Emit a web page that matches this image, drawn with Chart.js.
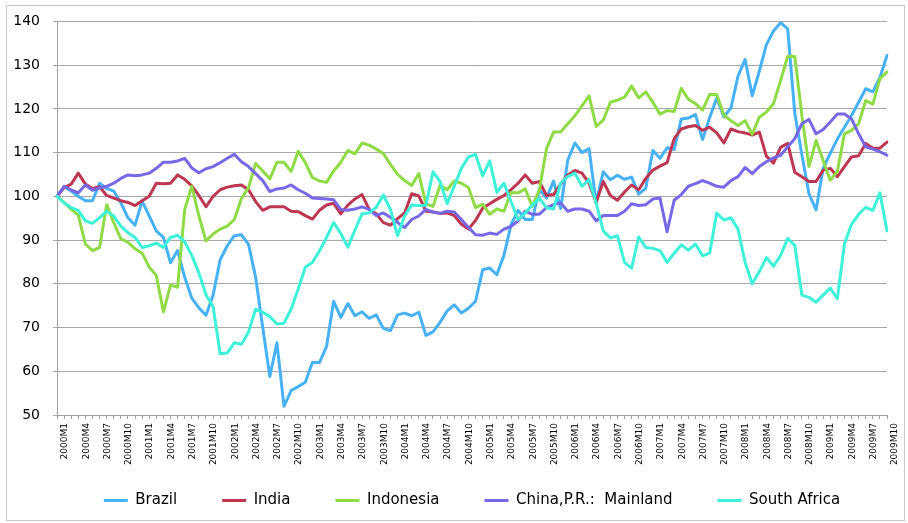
<!DOCTYPE html>
<html>
<head>
<meta charset="utf-8">
<script src="https://cdn.jsdelivr.net/npm/chart.js@4.4.0/dist/chart.umd.min.js"></script>
<style>
html,body{margin:0;padding:0;background:#fff;}
#wrap{width:908px;height:523px;position:relative;}
canvas{display:block;}
</style>
</head>
<body>
<div id="wrap"><canvas id="c" width="908" height="523"></canvas></div>
<script>
// ---- data ----
const years = [2000, 2001, 2002, 2003, 2004, 2005, 2006, 2007, 2008, 2009];
const lastLabel = '2009M10';
const categories = [];
outer: for (const y of years) {
  for (let m = 1; m <= 12; m++) {
    categories.push(y + 'M' + m);
    if (y + 'M' + m === lastLabel) break outer;
  }
}
const yTicks = [50, 60, 70, 80, 90, 100, 110, 120, 130, 140];

const brazil = [
  100, 102.2, 101.2, 100, 99, 99, 103, 101.8, 101.2, 98.5, 95.1, 93.4, 98.9, 95.5, 92.1, 90.6, 84.8, 87.6, 81.5, 76.7,
  74.5, 72.8, 77.4, 85.5, 88.7, 91, 91.2, 89, 81.5, 70, 58.8, 66.5, 52, 55.6, 56.5, 57.5, 62, 62, 65.7, 76,
  72.3, 75.5, 72.7, 73.6, 72.1, 72.9, 69.8, 69.3, 72.9, 73.3, 72.7, 73.5, 68.2, 69, 71.2, 73.8, 75.2, 73.3, 74.4, 76,
  83.2, 83.6, 82.1, 86.5, 93.5, 96.8, 94.7, 94.7, 101.5, 99.6, 103.5, 97.2, 108.3, 112.2, 110, 110.9, 98.5, 105.6, 103.8, 104.8,
  103.9, 104.4, 100.5, 101.9, 110.5, 108.7, 111.1, 110.7, 117.7, 117.9, 118.7, 113, 118, 122.5, 118.2, 120.2, 127.5, 131.3, 123,
  128.6, 134.7, 137.8, 139.7, 138.3, 119, 109.5, 100.6, 96.9, 106.4, 109.8, 113.1, 115.8, 118.5, 121.5, 124.6, 123.9, 127.2, 132.2
];
const india = [
  100, 102, 102.8, 105.3, 102.8, 101.8, 102.2, 100.2, 99.6, 99, 98.6, 97.9, 99, 100, 103, 102.9, 103, 104.9, 103.9, 102.4,
  100.2, 97.6, 100, 101.5, 102.1, 102.4, 102.6, 101.5, 98.8, 96.8, 97.6, 97.6, 97.6, 96.6, 96.5, 95.6, 94.8, 96.8, 98, 98.4,
  96, 98, 99.4, 100.4, 97, 96, 94, 93.4, 94.9, 96.2, 100.6, 100.1, 96.6, 96.4, 96.1, 96.2, 95.6, 93.6, 92.5, 94.5,
  97.3, 98.3, 99.3, 100.2, 101.5, 103, 104.9, 103, 103.4, 100.2, 100.4, 102.8, 104.9, 105.9, 105.3, 103, 98.6, 103.4, 100.2, 99.1,
  101, 102.6, 101.5, 104.1, 106, 106.9, 107.7, 113.2, 115.4, 115.9, 116.2, 115.1, 115.8, 114.5, 112.2, 115.4, 114.8, 114.5, 114,
  114.7, 109.2, 107.6, 111.2, 112.1, 105.5, 104.5, 103.4, 103.4, 106, 106.4, 104.5, 106.8, 109, 109.3, 112.1, 111, 111, 112.4
];
const indonesia = [
  100, 98.6, 97, 95.7, 89.1, 87.6, 88.3, 98.1, 94, 90.3, 89.5, 88, 87, 83.8, 81.9, 73.6, 79.7, 79.2, 97, 102.3,
  95.5, 89.8, 91.4, 92.5, 93.2, 94.7, 99.5, 102, 107.5, 105.8, 104, 107.8, 107.8, 105.7, 110.3, 107.7, 104.3, 103.5, 103.2, 105.8,
  107.8, 110.5, 109.7, 112.2, 111.7, 110.8, 109.8, 107.3, 105, 103.6, 102.5, 105.2, 98.3, 97.7, 102.5, 101.5, 103.5, 103, 102, 97.4,
  98.2, 95.9, 97.1, 96.6, 100.9, 100.8, 101.7, 97.7, 101.5, 110.9, 114.7, 114.7, 116.6, 118.4, 120.7, 123, 116, 117.4, 121.5, 122,
  122.7, 125.2, 122.5, 123.9, 121.5, 118.8, 119.6, 119.4, 124.7, 122.2, 121.2, 119.7, 123.3, 123.3, 118.6, 117.3, 116.2, 117.3, 114.2,
  118.1, 119.3, 121.2, 126.5, 132, 132, 118.5, 106.8, 112.8, 108.2, 103.7, 105.7, 114.3, 115.1, 116.6, 121.9, 121.1, 126.9, 128.4
];
const china = [
  100, 102.3, 101.5, 100.8, 102.6, 101.4, 101.9, 102.3, 103, 104.1, 104.9, 104.7, 104.9, 105.3, 106.4, 107.8, 107.8, 108.1, 108.7, 106.5,
  105.4, 106.3, 106.8, 107.7, 108.7, 109.6, 107.9, 106.8, 105.2, 103.6, 101.1, 101.7, 101.9, 102.6, 101.5, 100.7, 99.6, 99.5, 99.4, 99.2,
  97, 96.8, 97.1, 97.6, 97, 95.6, 96.2, 95.2, 94, 92.9, 94.7, 95.5, 97, 96.4, 96.1, 96.6, 96.4, 94.7, 92.9, 91.2,
  91.1, 91.6, 91.3, 92.5, 93.1, 94.4, 96.6, 95.9, 95.9, 97.4, 98.1, 98.5, 96.6, 97.1, 97.1, 96.6, 94.4, 95.6, 95.6, 95.6,
  96.6, 98.3, 97.9, 98.1, 99.4, 99.6, 91.9, 99.1, 100.4, 102.3, 102.9, 103.6, 103, 102.3, 102.1, 103.6, 104.5, 106.6, 105.2,
  106.8, 107.9, 108.8, 109.4, 111.3, 113.2, 116.6, 117.6, 114.3, 115.3, 117, 118.8, 118.8, 117.7, 114.3, 111.3, 110.8, 110.2, 109.4
];
const southAfrica = [
  100, 98.5, 97.4, 96.8, 94.4, 93.8, 95.1, 96.6, 95.5, 93.2, 91.7, 90.6, 88.3, 88.7, 89.3, 88.3, 90.6, 91.1, 89.6, 86.5,
  82.5, 77.5, 74.8, 64, 64.2, 66.5, 66.2, 69, 74.2, 73.5, 72.5, 70.8, 71, 74.2, 78.8, 83.8, 84.9, 87.5, 90.6, 94,
  91.5, 88.4, 92.3, 96, 96.2, 97.5, 100.3, 97, 91, 95.5, 98, 97.9, 97.9, 105.6, 103.4, 98.3, 102.3, 106.4, 109, 109.6,
  104.7, 108.1, 100.9, 103, 98.8, 94.7, 96.2, 98, 99.6, 97.4, 97.1, 103, 104.5, 105.3, 102.3, 103.8, 98.5, 92.1, 90.5, 91,
  84.9, 83.6, 90.7, 88.3, 88.1, 87.6, 84.9, 87, 88.9, 87.7, 89.1, 86.4, 87, 96.2, 94.6, 95.1, 92.5, 84.9, 80,
  82.8, 86, 84, 86.5, 90.4, 88.8, 77.4, 76.9, 75.8, 77.4, 79, 76.6, 89.1, 93.6, 95.9, 97.5, 96.8, 100.8, 92.1
];

const seriesNames = ['Brazil', 'India', 'Indonesia', 'China,P.R.:  Mainland', 'South Africa'];
const seriesColors = ['#47b1f6', '#bd3752', '#8fdb46', '#7768e6', '#3ef1d9'];
const seriesData = [brazil, india, indonesia, china, southAfrica];

// ---- chart ----
const frame = {
  id: 'frame',
  afterLayout(chart) {
    // let the rotated category labels extend below the scale box without clipping
    const s = chart.scales.x;
    if (s) s.bottom = chart.height;
  },
  beforeDraw(chart) {
    const ctx = chart.ctx;
    ctx.save();
    ctx.fillStyle = '#ffffff';
    ctx.fillRect(0, 0, chart.width, chart.height);
    ctx.strokeStyle = '#c8c8c8';
    ctx.lineWidth = 1;
    ctx.strokeRect(6.5, 5.5, 898, 515);
    ctx.restore();
  }
};

new Chart(document.getElementById('c'), {
  type: 'line',
  data: {
    labels: categories,
    datasets: seriesData.map((d, i) => ({
      label: seriesNames[i],
      data: d,
      borderColor: seriesColors[i],
      backgroundColor: seriesColors[i],
      borderWidth: 3,
      pointRadius: 0,
      pointHoverRadius: 0,
      tension: 0,
      fill: false,
      borderJoinStyle: 'round',
      borderCapStyle: 'round',
      order: seriesData.length - i
    }))
  },
  options: {
    responsive: false,
    animation: false,
    devicePixelRatio: 1,
    layout: { padding: { left: 12, right: 21, top: 18, bottom: 5 } },
    plugins: {
      tooltip: { enabled: false },
      legend: {
        position: 'bottom',
        fullSize: false,
        labels: {
          usePointStyle: true,
          pointStyle: 'line',
          pointStyleWidth: 24,
          padding: 45,
          color: '#000',
          font: { family: 'DejaVu Sans', size: 15 },
          sort: (a, b) => a.datasetIndex - b.datasetIndex
        }
      }
    },
    scales: {
      x: {
        type: 'category',
        offset: false,
        grid: { display: true, drawOnChartArea: false, drawTicks: true, tickLength: 4, color: '#a0a0a0' },
        border: { display: true, color: '#a0a0a0' },
        ticks: {
          autoSkip: false,
          minRotation: 90,
          maxRotation: 90,
          padding: 4,
          labelOffset: 8,
          color: '#000',
          font: { family: 'DejaVu Sans', size: 9 },
          callback: (v, i) => (i % 3 === 0 ? categories[i] : '')
        },
        afterFit: s => { s.height = 33; }
      },
      y: {
        min: yTicks[0],
        max: yTicks[yTicks.length - 1],
        afterBuildTicks: s => { s.ticks = yTicks.map(v => ({ value: v })); },
        grid: { color: '#a8a8a8', tickLength: 4, drawTicks: true },
        border: { display: true, color: '#a0a0a0' },
        ticks: { color: '#000', padding: 13, font: { family: 'DejaVu Sans', size: 14 } },
        afterFit: s => { s.width = 45; }
      }
    }
  },
  plugins: [frame]
});
</script>
</body>
</html>
